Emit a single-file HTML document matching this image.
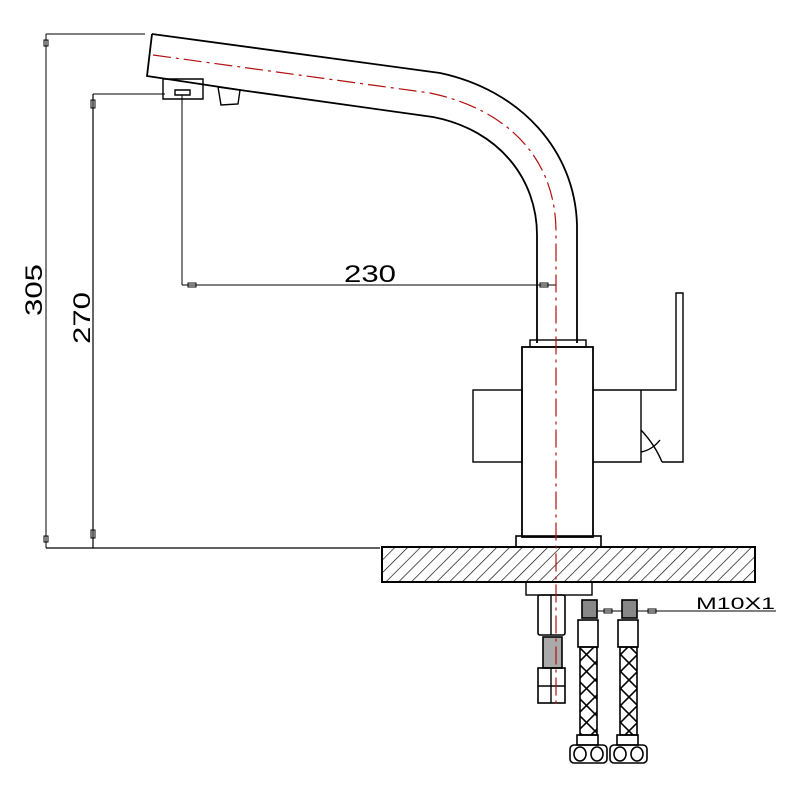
<!DOCTYPE html>
<html><head><meta charset="utf-8"><style>html,body{margin:0;padding:0;background:#fff}svg{display:block}</style></head>
<body>
<svg width="800" height="800" viewBox="0 0 800 800" xmlns="http://www.w3.org/2000/svg">
<defs>
<pattern id="h" patternUnits="userSpaceOnUse" width="9" height="9" patternTransform="rotate(45)">
<line x1="0" y1="0" x2="0" y2="9" stroke="#000" stroke-width="1.3"/>
</pattern>
<pattern id="b" patternUnits="userSpaceOnUse" width="17" height="17">
<path d="M0 0L17 17M17 0L0 17" stroke="#000" stroke-width="1.6"/>
</pattern>
</defs>
<g fill="none" stroke="#000" stroke-width="1.4">
<!-- dimensions -->
<line x1="46" y1="34" x2="145" y2="34" stroke-width="1"/>
<line x1="46" y1="34" x2="46" y2="548" stroke-width="1"/>
<line x1="46" y1="548" x2="380" y2="548" stroke-width="1.2"/>
<line x1="93" y1="94" x2="165" y2="94" stroke-width="1"/>
<line x1="93" y1="94" x2="93" y2="548" stroke-width="1.2"/>
<line x1="182" y1="95" x2="182" y2="285" stroke-width="1"/>
<line x1="182" y1="285" x2="556" y2="285" stroke-width="1"/>
<line x1="597" y1="611" x2="776" y2="611" stroke-width="1"/>
<g stroke-width="1">
<path d="M44 40h4v6h-4z M44 536h4v6h-4z M91 100h4v8h-4z M91 530h4v8h-4z M188 283h8v4h-8z M540 283h8v4h-8z M604 609h8v4h-8z M648 609h8v4h-8z"/>
</g>
<!-- spout -->
<path d="M152 34 L440 73 C520 90 575 150 577 225 L577 343" stroke-width="1.8"/>
<path d="M152 34 L147 76 L240 90 L433 117 C500 130 537 180 537 235 L537 343" stroke-width="1.8"/>
<path d="M163 79h40v20h-40z M175 90h15v5h-15z" stroke-width="1.4"/>
<path d="M218 87 L240 90 L238 104 L221 105 Z"/>
<!-- body -->
<rect x="530" y="340" width="56" height="7"/>
<rect x="522" y="347" width="71" height="190" stroke-width="1.8"/>
<rect x="473" y="390" width="49" height="72"/>
<path d="M593 390 H676 V293 H683 V462 H662 M641 390 V462 H593"/>
<path d="M641 430 Q655 445 662 462 M641 452 Q652 450 660 440"/>
<rect x="516" y="536" width="85" height="11" stroke-width="1.6"/>
<rect x="382" y="547" width="373" height="35" fill="url(#h)" stroke-width="2"/>
<rect x="526" y="582" width="66" height="13"/>
<!-- center fitting -->
<rect x="538" y="595" width="27" height="40" rx="2" stroke-width="1.6"/>
<line x1="551" y1="595" x2="551" y2="635"/>
<rect x="543" y="637" width="19" height="31" fill="#aaa" stroke-width="1.6"/>
<rect x="538" y="668" width="27" height="35" stroke-width="1.6"/>
<path d="M551 668V703M538 686H565"/>
<!-- hoses -->
<g stroke-width="1.6">
<rect x="582" y="600" width="15" height="18" fill="#888"/>
<rect x="578" y="620" width="20" height="27"/>
<rect x="580" y="647" width="17" height="88" fill="url(#b)"/>
<rect x="577" y="735" width="21" height="10"/>
<rect x="570" y="745" width="37" height="18" rx="4"/>
<ellipse cx="580" cy="754" rx="6" ry="7"/><ellipse cx="597" cy="754" rx="6" ry="7"/>
<rect x="622" y="600" width="15" height="18" fill="#888"/>
<rect x="618" y="620" width="20" height="27"/>
<rect x="620" y="647" width="17" height="88" fill="url(#b)"/>
<rect x="617" y="735" width="21" height="10"/>
<rect x="610" y="745" width="37" height="18" rx="4"/>
<ellipse cx="620" cy="754" rx="6" ry="7"/><ellipse cx="637" cy="754" rx="6" ry="7"/>
</g>
</g>
<!-- center line -->
<path d="M153 55 L430 93 C510 110 555 160 556 230 L556 705" fill="none" stroke="#b01010" stroke-width="1.2" stroke-dasharray="18 5 3 5"/>
<g font-family="Liberation Sans, sans-serif" font-size="24" fill="#000">
<text x="370" y="282" text-anchor="middle" textLength="52" lengthAdjust="spacingAndGlyphs">230</text>
<text transform="translate(42,290) rotate(-90)" text-anchor="middle" textLength="52" lengthAdjust="spacingAndGlyphs">305</text>
<text transform="translate(90,318) rotate(-90)" text-anchor="middle" textLength="52" lengthAdjust="spacingAndGlyphs">270</text>
<text x="696" y="609" font-size="17" textLength="79" lengthAdjust="spacingAndGlyphs">M10X1</text>
</g>
</svg>
</body></html>
